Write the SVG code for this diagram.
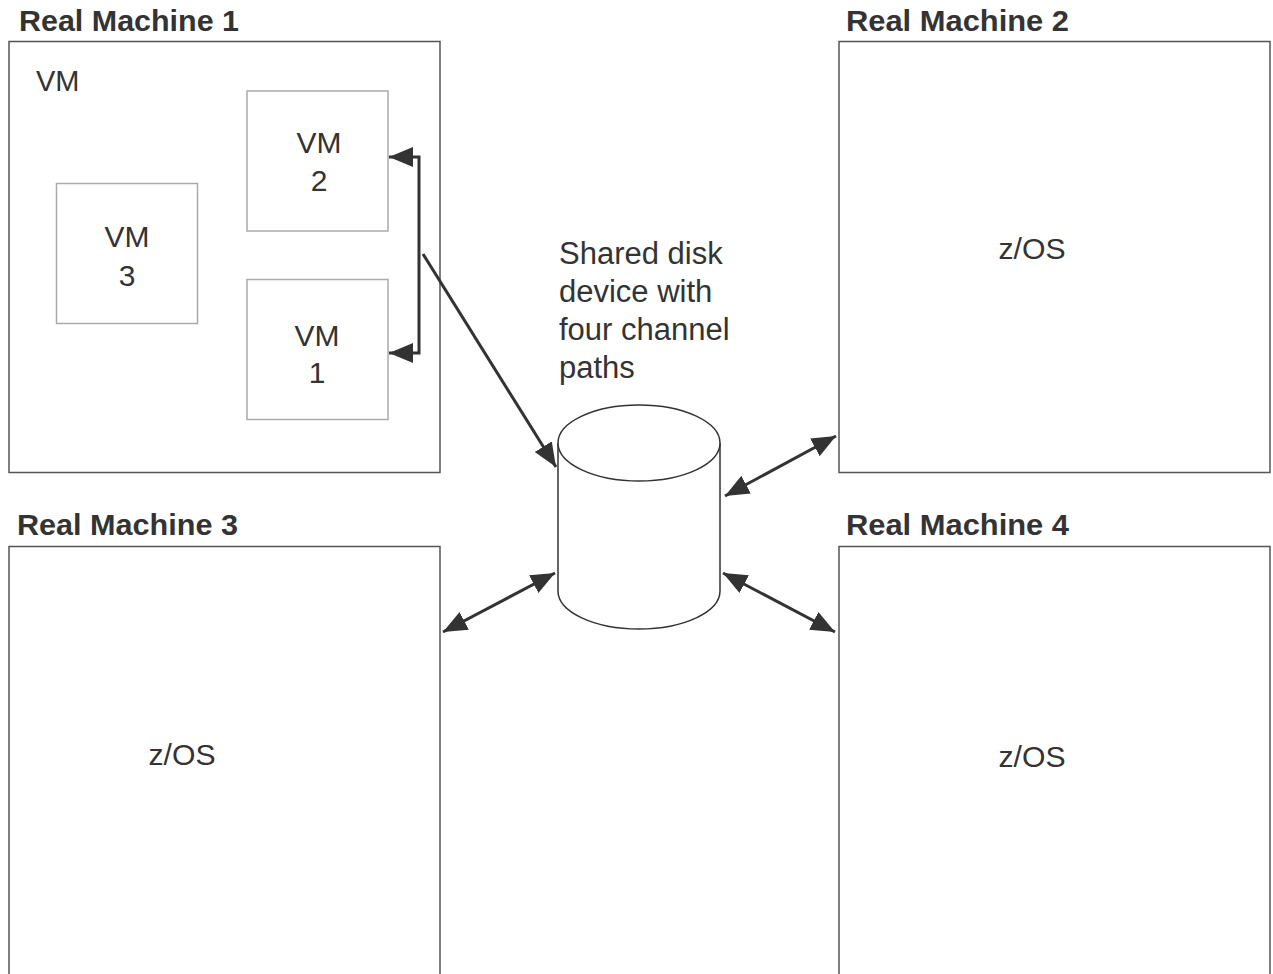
<svg xmlns="http://www.w3.org/2000/svg" width="1273" height="974" viewBox="0 0 1273 974">
<style>
.title{font-family:"Liberation Sans",Arial,sans-serif;font-weight:bold;font-size:29px;fill:#333}
.lbl{font-family:"Liberation Sans",Arial,sans-serif;font-size:30px;fill:#333}
.disktxt{font-size:31px}
.rm{fill:#fff;stroke:#555;stroke-width:1.5}
.vm{fill:#fff;stroke:#aaa;stroke-width:1.5}
.conn{fill:none;stroke:#333;stroke-width:3}
.disk{fill:#fff;stroke:#333;stroke-width:1.5}
</style>
<defs>
<marker id="ah" markerUnits="userSpaceOnUse" markerWidth="26" markerHeight="22" refX="24" refY="10" orient="auto-start-reverse" viewBox="0 0 26 22">
<path d="M0,0 L24,10 L0,20 z" fill="#333"/>
</marker>
</defs>
<rect width="1273" height="974" fill="#fff"/>
<g id="rm1">
<text class="title" x="19" y="31" textLength="220" lengthAdjust="spacingAndGlyphs">Real Machine 1</text>
<rect class="rm" x="9" y="41.5" width="431" height="431"/>
<text class="lbl" x="36" y="91" style="font-size:29px">VM</text>
</g>
<g id="vm2">
<rect class="vm" x="247" y="91" width="141" height="140"/>
<text class="lbl" x="319" y="153" text-anchor="middle">VM</text>
<text class="lbl" x="319" y="191" text-anchor="middle">2</text>
</g>
<g id="vm1">
<rect class="vm" x="247" y="279.5" width="141" height="140"/>
<text class="lbl" x="317" y="346" text-anchor="middle">VM</text>
<text class="lbl" x="317" y="383" text-anchor="middle">1</text>
</g>
<g id="vm3">
<rect class="vm" x="56.5" y="183.5" width="141" height="140"/>
<text class="lbl" x="127" y="247" text-anchor="middle">VM</text>
<text class="lbl" x="127" y="286" text-anchor="middle">3</text>
</g>
<g id="rm2">
<text class="title" x="846" y="31" textLength="223" lengthAdjust="spacingAndGlyphs">Real Machine 2</text>
<rect class="rm" x="839" y="41.5" width="431" height="431"/>
<text class="lbl" x="1032" y="259" text-anchor="middle" textLength="67" lengthAdjust="spacingAndGlyphs">z/OS</text>
</g>
<g id="rm3">
<text class="title" x="17" y="535" textLength="221" lengthAdjust="spacingAndGlyphs">Real Machine 3</text>
<rect class="rm" x="9" y="546.5" width="431" height="440"/>
<text class="lbl" x="182" y="765" text-anchor="middle" textLength="67" lengthAdjust="spacingAndGlyphs">z/OS</text>
</g>
<g id="rm4">
<text class="title" x="846" y="535" textLength="223" lengthAdjust="spacingAndGlyphs">Real Machine 4</text>
<rect class="rm" x="839" y="546.5" width="431" height="440"/>
<text class="lbl" x="1032" y="767" text-anchor="middle" textLength="67" lengthAdjust="spacingAndGlyphs">z/OS</text>
</g>
<g id="disk">
<path class="disk" d="M558,443 V591 A81,38 0 0 0 720,591 V443"/>
<ellipse cx="639" cy="443" rx="81" ry="38" fill="#fff" stroke="#333" stroke-width="1.5"/>
<text class="lbl disktxt" x="559" y="264">Shared disk</text>
<text class="lbl disktxt" x="559" y="302">device with</text>
<text class="lbl disktxt" x="559" y="340">four channel</text>
<text class="lbl disktxt" x="559" y="378">paths</text>
</g>
<g id="connectors">
<path class="conn" d="M389,157 H419 V353 H389" marker-start="url(#ah)" marker-end="url(#ah)"/>
<path class="conn" d="M423,254 L556,467" marker-end="url(#ah)"/>
<path class="conn" d="M725,496 L836,436" marker-start="url(#ah)" marker-end="url(#ah)"/>
<path class="conn" d="M443,632 L555,573" marker-start="url(#ah)" marker-end="url(#ah)"/>
<path class="conn" d="M723,573 L835,632" marker-start="url(#ah)" marker-end="url(#ah)"/>
</g>
</svg>
